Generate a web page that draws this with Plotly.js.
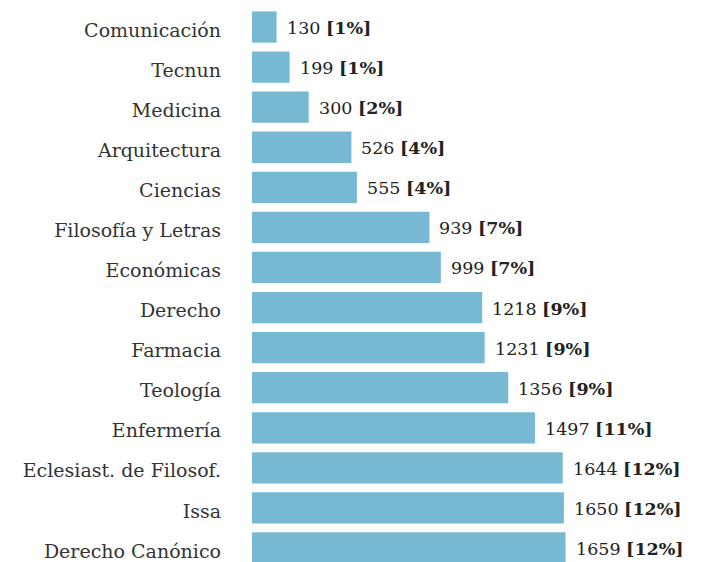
<!DOCTYPE html>
<html><head><meta charset="utf-8">
<script src="https://cdn.plot.ly/plotly-3.0.1.min.js"></script>
<style>html,body{margin:0;padding:0;background:#fff}</style>
</head><body><div id="chart" style="width:709px;height:562px"></div>
<script>
const categories = ["Comunicación","Tecnun","Medicina","Arquitectura","Ciencias","Filosofía y Letras","Económicas","Derecho","Farmacia","Teología","Enfermería","Eclesiast. de Filosof.","Issa","Derecho Canónico"];
const values = [130,199,300,526,555,939,999,1218,1231,1356,1497,1644,1650,1659];
const percents = [1,1,2,4,4,7,7,9,9,9,11,12,12,12];

const annotations = categories.map((c,i)=>({
  x: values[i], y: c, xref:'x', yref:'y', xanchor:'left', yanchor:'middle',
  xshift: 8, yshift: -1, showarrow:false,
  text: values[i] + ' <b>[' + percents[i] + '%]</b>',
  font:{family:'DejaVu Serif', size:17.5, color:'#222'}
}));

Plotly.newPlot('chart', [{
  type:'bar', orientation:'h', x: values, y: categories,
  marker:{color:'#77b8d2'}, hoverinfo:'skip'
}], {
  width:709, height:562,
  margin:{l:252, r:0, t:7, b:0},
  bargap:0.22,
  paper_bgcolor:'#fff', plot_bgcolor:'#fff',
  showlegend:false,
  xaxis:{range:[0,2418], visible:false, fixedrange:true},
  yaxis:{type:'category', categoryorder:'array', categoryarray:categories,
    range:[13.35,-0.5], showgrid:false, zeroline:false, showline:false,
    ticks:'', ticklabelstandoff:30, ticklabelshift:-3,
    tickfont:{family:'DejaVu Serif', size:19, color:'#333'}},
  annotations: annotations
}, {displayModeBar:false, staticPlot:true});
</script></body></html>
